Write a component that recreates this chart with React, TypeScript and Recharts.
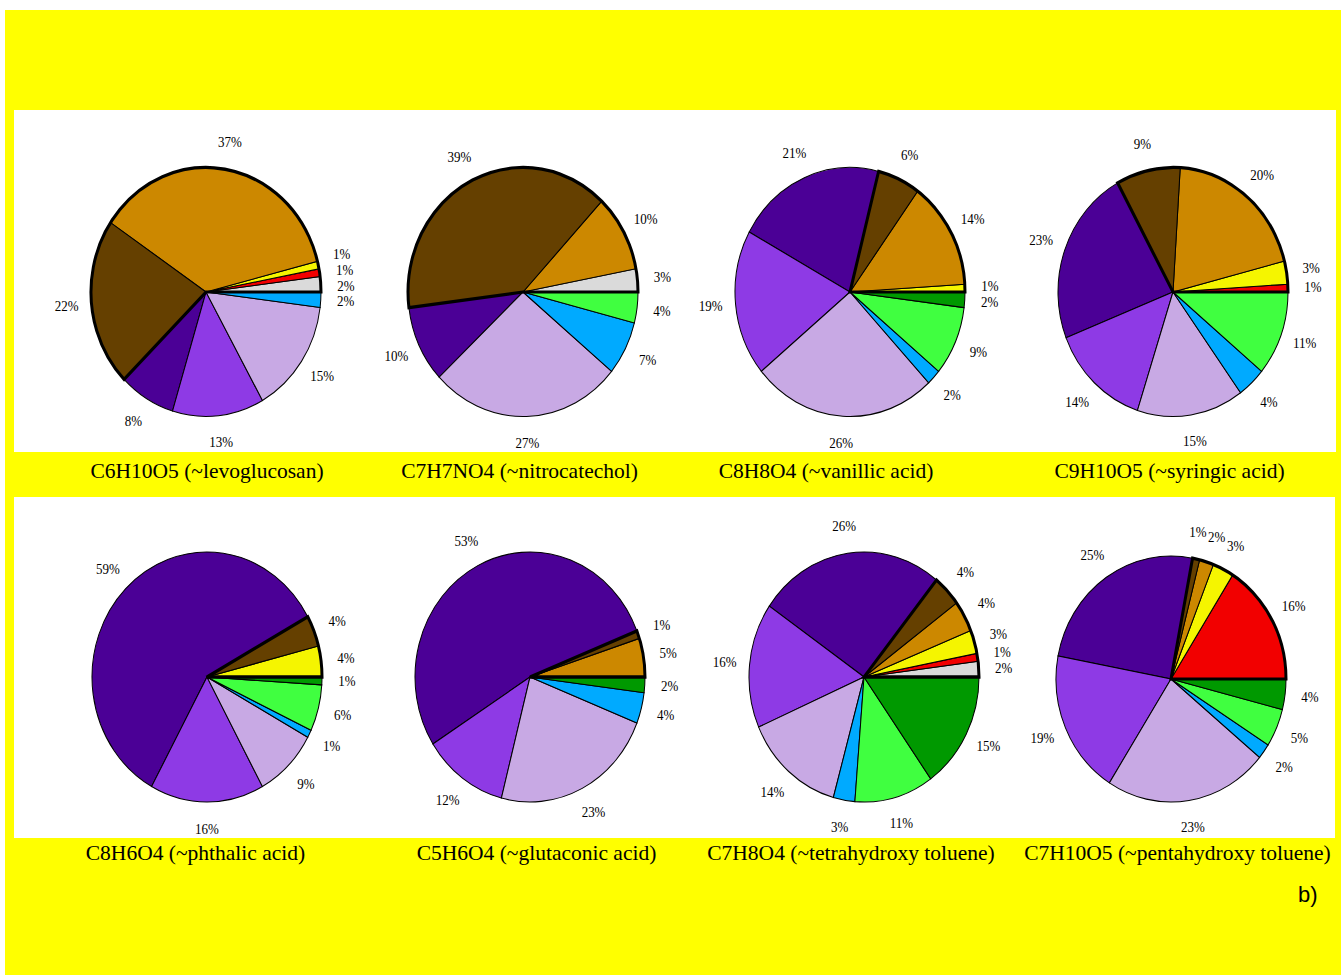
import { Cell, Pie, PieChart } from "recharts";

// slice order goes counter-clockwise from 3 o'clock
const categories = ["gray", "red", "yellow", "orange", "brown", "darkPurple", "purple", "lavender", "blue", "lightGreen", "darkGreen"];
const categoryColors = ["#dadada", "#f20000", "#f5f500", "#cc8800", "#654000", "#4b0096", "#8e3ae5", "#c8a9e4", "#00aaff", "#40ff40", "#009900"];
// the first five categories are outlined together with a heavy line
const outlinedCount = 5;

const compounds = [
  "C6H10O5 (~levoglucosan)",
  "C7H7NO4 (~nitrocatechol)",
  "C8H8O4 (~vanillic acid)",
  "C9H10O5 (~syringic acid)",
  "C8H6O4 (~phthalic acid)",
  "C5H6O4 (~glutaconic acid)",
  "C7H8O4 (~tetrahydroxy toluene)",
  "C7H10O5 (~pentahydroxy toluene)",
];

const levoglucosan = [2, 1, 1, 37, 22, 8, 13, 15, 2, 0, 0];
const nitrocatechol = [3, 0, 0, 10, 39, 10, 0, 27, 7, 4, 0];
const vanillicAcid = [0, 0, 1, 14, 6, 21, 19, 26, 2, 9, 2];
const syringicAcid = [0, 1, 3, 20, 9, 23, 14, 15, 4, 11, 0];
const phthalicAcid = [0, 0, 4, 0, 4, 59, 16, 9, 1, 6, 1];
const glutaconicAcid = [0, 0, 0, 5, 1, 53, 12, 23, 4, 0, 2];
const tetrahydroxyToluene = [2, 1, 3, 4, 4, 26, 16, 14, 3, 11, 15];
const pentahydroxyToluene = [0, 16, 3, 2, 1, 25, 19, 23, 2, 5, 4];

const shares = [levoglucosan, nitrocatechol, vanillicAcid, syringicAcid, phthalicAcid, glutaconicAcid, tetrahydroxyToluene, pentahydroxyToluene];

// layout: pie centres / vertical radius, title centres
const pieLayout = [
  { x: 206, y: 291.5, ry: 124.5 },
  { x: 522.5, y: 291.5, ry: 124.5 },
  { x: 850, y: 291.5, ry: 124.5 },
  { x: 1173, y: 291.5, ry: 124.5 },
  { x: 206.5, y: 676.5, ry: 125 },
  { x: 530, y: 676.5, ry: 125 },
  { x: 864, y: 677, ry: 125 },
  { x: 1170.5, y: 678.5, ry: 123 },
];
const titleLayout = [
  { x: 207, y: 471 },
  { x: 519.5, y: 471 },
  { x: 826, y: 471 },
  { x: 1169.5, y: 471 },
  { x: 195.5, y: 853 },
  { x: 536.5, y: 853 },
  { x: 851, y: 853 },
  { x: 1177.5, y: 853 },
];

const R = 115;
const LABEL_R = R + 25;
const BOX = 320;
const RADIAN = Math.PI / 180;
const FONT = 13;

function labelWidth(value: number) {
  return String(value).length * FONT * 0.5 + FONT * 0.833;
}

// spread label angles apart where neighbouring labels would collide
function labelAngles(slices: { value: number }[]) {
  const total = slices.reduce((a, s) => a + s.value, 0);
  let cum = 0;
  const angles = slices.map((s) => {
    const mid = (360 * (cum + s.value / 2)) / total;
    cum += s.value;
    return mid;
  });
  const pos = (a: number) => ({ x: LABEL_R * Math.cos(a * RADIAN), y: -LABEL_R * Math.sin(a * RADIAN) });
  for (let iter = 0; iter < 400; iter++) {
    let moved = false;
    for (let i = 0; i < angles.length; i++) {
      const j = (i + 1) % angles.length;
      if (i === j) continue;
      const p = pos(angles[i]);
      const q = pos(angles[j]);
      const minDx = (labelWidth(slices[i].value) + labelWidth(slices[j].value)) / 2 + 1;
      const minDy = FONT + 1;
      if (Math.abs(p.x - q.x) < minDx && Math.abs(p.y - q.y) < minDy) {
        angles[i] -= 0.25;
        angles[j] += 0.25;
        moved = true;
      }
    }
    if (!moved) break;
  }
  return angles;
}

function CompoundPie({ index }: { index: number }) {
  const values = shares[index];
  const layout = pieLayout[index];
  const slices = values
    .map((value, i) => ({ name: categories[i], value, color: categoryColors[i] }))
    .filter((slice) => slice.value > 0);
  const angles = labelAngles(slices);
  const outlined = values.slice(0, outlinedCount).reduce((a, b) => a + b, 0);
  const rest = values.slice(outlinedCount).reduce((a, b) => a + b, 0);
  const outline = [
    { name: "outlined", value: outlined },
    { name: "rest", value: rest },
  ];

  const renderLabel = (props: any) => {
    const { cx, cy, index: i, value } = props;
    const a = angles[i] * RADIAN;
    const x = cx + LABEL_R * Math.cos(a);
    const y = cy - LABEL_R * Math.sin(a);
    return (
      <text key={`l${i}`} x={x} y={y} textAnchor="middle" dominantBaseline="central" fill="#000" fontSize={FONT} fontFamily="'Liberation Serif', serif">
        {`${value}%`}
      </text>
    );
  };

  return (
    <div
      style={{
        position: "absolute",
        left: layout.x - BOX / 2,
        top: layout.y - BOX / 2,
        width: BOX,
        height: BOX,
        transform: `scaleY(${layout.ry / R})`,
        transformOrigin: "50% 50%",
      }}
    >
      <PieChart width={BOX} height={BOX} margin={{ top: 0, right: 0, bottom: 0, left: 0 }}>
        <Pie
          data={slices}
          dataKey="value"
          cx={BOX / 2}
          cy={BOX / 2}
          outerRadius={R}
          startAngle={0}
          endAngle={360}
          stroke="#000"
          strokeWidth={1}
          label={renderLabel}
          labelLine={false}
          isAnimationActive={false}
        >
          {slices.map((slice) => (
            <Cell key={slice.name} fill={slice.color} stroke="#000" strokeWidth={1} />
          ))}
        </Pie>
        <Pie
          data={outline}
          dataKey="value"
          cx={BOX / 2}
          cy={BOX / 2}
          outerRadius={R}
          startAngle={0}
          endAngle={360}
          isAnimationActive={false}
          legendType="none"
        >
          <Cell fill="none" stroke="#000" strokeWidth={3} />
          <Cell fill="none" stroke="none" />
        </Pie>
      </PieChart>
    </div>
  );
}

export default function App() {
  return (
    <div style={{ position: "absolute", left: 0, top: 0, width: 1341, height: 975, background: "#fff", overflow: "hidden" }}>
      <div style={{ position: "absolute", left: 5, top: 10, width: 1336, height: 965, background: "#ffff00" }} />
      <div style={{ position: "absolute", left: 14, top: 110, width: 1322, height: 342, background: "#fff" }} />
      <div style={{ position: "absolute", left: 14, top: 497, width: 1321, height: 341, background: "#fff" }} />
      {shares.map((_, i) => (
        <CompoundPie key={compounds[i]} index={i} />
      ))}
      {compounds.map((title, i) => (
        <div
          key={title}
          style={{
            position: "absolute",
            left: titleLayout[i].x - 200,
            top: titleLayout[i].y - 12,
            width: 400,
            lineHeight: "24px",
            textAlign: "center",
            fontFamily: "'Liberation Serif', serif",
            fontSize: 21.5,
            color: "#000",
            whiteSpace: "nowrap",
          }}
        >
          {title}
        </div>
      ))}
      <div
        style={{
          position: "absolute",
          left: 1298,
          top: 881,
          fontFamily: "'Liberation Sans', Arial, sans-serif",
          fontSize: 22,
          lineHeight: "28px",
          color: "#000",
        }}
      >
        b)
      </div>
    </div>
  );
}
